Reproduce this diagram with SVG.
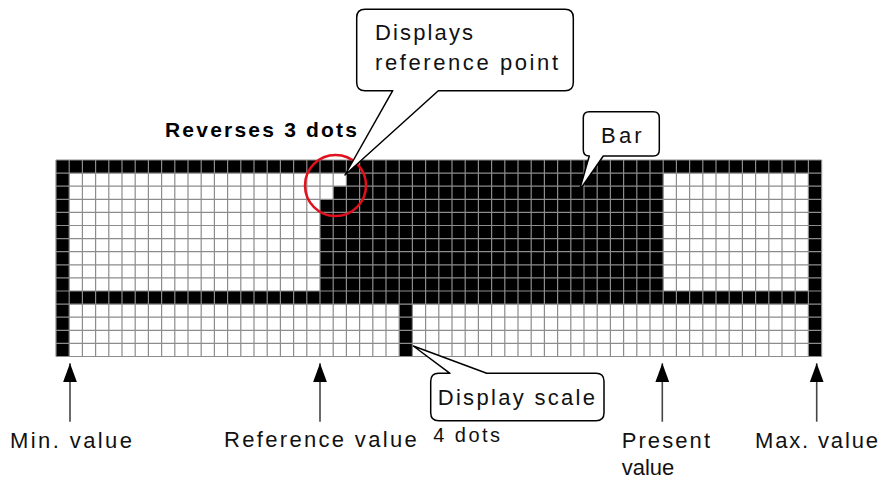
<svg xmlns="http://www.w3.org/2000/svg" width="882" height="480" viewBox="0 0 882 480">
<defs>
<style>
.lbl{font-family:"Liberation Sans",Arial,sans-serif;font-size:22px;fill:#111}
.bold{font-family:"Liberation Sans",Arial,sans-serif;font-size:21px;font-weight:bold;fill:#000}
.small{font-family:"Liberation Sans",Arial,sans-serif;font-size:20px;fill:#111}
.blk{fill:#000}
.grid{fill:none;stroke:#8c8c8c;stroke-width:1.2}
.callout{fill:#fff;stroke:#000;stroke-width:1.5;stroke-linejoin:round}
.arrow{stroke:#444;stroke-width:1.6;fill:none}
</style>
<marker id="ah" markerUnits="userSpaceOnUse" viewBox="0 0 19 14" refX="19" refY="7" markerWidth="19" markerHeight="14" orient="auto">
<path d="M0,0 L19,7 L0,14 Z" fill="#000"/>
</marker>
</defs>
<rect width="882" height="480" fill="#fff"/>

<g id="display">
<rect x="56" y="160" width="765.6" height="196.5" fill="#fff"/>
<rect class="blk" x="56" y="160" width="765.6" height="13.1"/>
<rect class="blk" x="56" y="160" width="13.2" height="196.5"/>
<rect class="blk" x="808.4" y="160" width="13.2" height="196.5"/>
<rect class="blk" x="56" y="291" width="765.6" height="13.1"/>
<path id="bar" class="blk" d="M346.4,173.1 H663.2 V291 H320 V199.3 H333.2 V186.2 H346.4 Z"/>
<rect id="scale-mark" class="blk" x="399.2" y="304.1" width="13.2" height="52.4"/>
<path class="grid" d="M56,160V356.5M69.2,160V356.5M82.4,160V356.5M95.6,160V356.5M108.8,160V356.5M122,160V356.5M135.2,160V356.5M148.4,160V356.5M161.6,160V356.5M174.8,160V356.5M188,160V356.5M201.2,160V356.5M214.4,160V356.5M227.6,160V356.5M240.8,160V356.5M254,160V356.5M267.2,160V356.5M280.4,160V356.5M293.6,160V356.5M306.8,160V356.5M320,160V356.5M333.2,160V356.5M346.4,160V356.5M359.6,160V356.5M372.8,160V356.5M386,160V356.5M399.2,160V356.5M412.4,160V356.5M425.6,160V356.5M438.8,160V356.5M452,160V356.5M465.2,160V356.5M478.4,160V356.5M491.6,160V356.5M504.8,160V356.5M518,160V356.5M531.2,160V356.5M544.4,160V356.5M557.6,160V356.5M570.8,160V356.5M584,160V356.5M597.2,160V356.5M610.4,160V356.5M623.6,160V356.5M636.8,160V356.5M650,160V356.5M663.2,160V356.5M676.4,160V356.5M689.6,160V356.5M702.8,160V356.5M716,160V356.5M729.2,160V356.5M742.4,160V356.5M755.6,160V356.5M768.8,160V356.5M782,160V356.5M795.2,160V356.5M808.4,160V356.5M821.6,160V356.5
M56,160H821.6M56,173.1H821.6M56,186.2H821.6M56,199.3H821.6M56,212.4H821.6M56,225.5H821.6M56,238.6H821.6M56,251.7H821.6M56,264.8H821.6M56,277.9H821.6M56,291H821.6M56,304.1H821.6M56,317.2H821.6M56,330.3H821.6M56,343.4H821.6M56,356.5H821.6"/>
</g>

<g id="reverse-marker">
<circle cx="335.5" cy="185.5" r="30.5" fill="none" stroke="#e0101c" stroke-width="2.5"/>
<text class="bold" x="165" y="137" textLength="192" lengthAdjust="spacing">Reverses 3 dots</text>
</g>

<g id="callout-reference">
<path class="callout" d="M365,9.3 H565 Q573.3,9.3 573.3,17.6 V82.4 Q573.3,90.7 565,90.7 H438.3 L345,175 L392.7,90.7 H365 Q356.7,90.7 356.7,82.4 V17.6 Q356.7,9.3 365,9.3 Z"/>
<text class="lbl" x="375" y="40" textLength="98" lengthAdjust="spacing">Displays</text>
<text class="lbl" x="375" y="70" textLength="183" lengthAdjust="spacing">reference point</text>
</g>

<g id="callout-bar">
<path class="callout" d="M589.3,111.7 H653.3 Q659.3,111.7 659.3,117.7 V150 Q659.3,156 653.3,156 H603.3 L579.3,190.7 L589.3,156 Q583.3,156 583.3,150 V117.7 Q583.3,111.7 589.3,111.7 Z"/>
<text class="lbl" x="601" y="143.3" textLength="40.7" lengthAdjust="spacing">Bar</text>
</g>

<g id="callout-scale">
<path class="callout" d="M438.7,373.3 H450 L413.3,346 L486.7,373.3 H596 Q604,373.3 604,381.3 V412.7 Q604,420.7 596,420.7 H438.7 Q430.7,420.7 430.7,412.7 V381.3 Q430.7,373.3 438.7,373.3 Z"/>
<text class="lbl" x="437.7" y="405" textLength="157.3" lengthAdjust="spacing">Display scale</text>
<text class="small" x="433.3" y="441.7" textLength="66.7" lengthAdjust="spacing">4 dots</text>
</g>

<g id="connectors">
<line class="arrow" x1="70" y1="421.7" x2="70" y2="363.3" marker-end="url(#ah)"/>
<line class="arrow" x1="320" y1="421.7" x2="320" y2="363.3" marker-end="url(#ah)"/>
<line class="arrow" x1="662.3" y1="421.7" x2="662.3" y2="363.3" marker-end="url(#ah)"/>
<line class="arrow" x1="816.7" y1="421.7" x2="816.7" y2="363.3" marker-end="url(#ah)"/>
</g>

<g id="label-min"><text class="lbl" x="10" y="448" textLength="122" lengthAdjust="spacing">Min. value</text></g>
<g id="label-ref"><text class="lbl" x="224" y="447" textLength="192.7" lengthAdjust="spacing">Reference value</text></g>
<g id="label-present">
<text class="lbl" x="621.7" y="448" textLength="88.3" lengthAdjust="spacing">Present</text>
<text class="lbl" x="621.7" y="475">value</text>
</g>
<g id="label-max"><text class="lbl" x="755" y="448" textLength="123" lengthAdjust="spacing">Max. value</text></g>
</svg>
